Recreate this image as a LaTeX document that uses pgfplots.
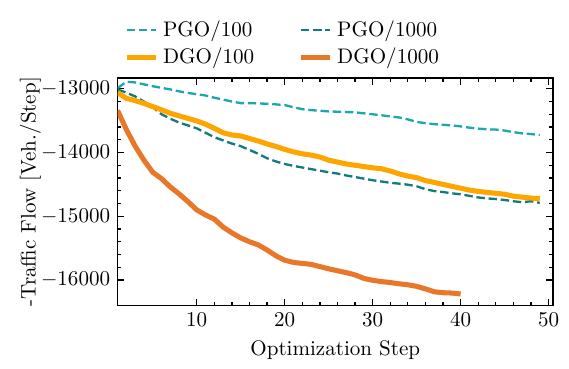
\documentclass[border=0pt]{standalone}
\usepackage{pgfplots}
\pgfplotsset{compat=1.18}
\definecolor{pgoa}{HTML}{1CA6AD}
\definecolor{pgob}{HTML}{117B80}
\definecolor{dgoa}{HTML}{FFA500}
\definecolor{dgob}{HTML}{E8772A}
\begin{document}
\begin{tikzpicture}
\begin{axis}[
  scale only axis,
  width=206.7pt, height=108pt,
  xmin=1, xmax=50.5,
  ymin=-16400, ymax=-12830,
  xtick={10,20,30,40,50},
  ytick={-16000,-15000,-14000,-13000},
  scaled y ticks=false,
  minor x tick num=4,
  minor y tick num=4,
  tick align=inside,
  xtick pos=both, ytick pos=both,
  major tick length=3.2pt,
  minor tick length=1.8pt,
  axis line style={line width=0.6pt},
  every tick/.style={line width=0.6pt, black},
  /pgf/number format/1000 sep={},
  xlabel={Optimization Step},
  ylabel={-Traffic Flow [Veh./Step]},
  ylabel style={at={(axis description cs:-0.200,0.5)}, anchor=center},
  legend columns=2,
  legend style={draw=none, fill=none, at={(0,1)}, anchor=south west, xshift=0pt, yshift=1pt,
    /tikz/every even column/.append style={column sep=19pt}, row sep=0pt},
  legend cell align=left,
  legend image code/.code={\draw[#1] (0pt,0pt) -- (14pt,0pt);},
]
\addplot[color=pgoa, line width=1.1pt, dash pattern=on 4pt off 1.8pt] coordinates {
(1,-12990)(2,-12890)(3,-12900)(4,-12930)(5,-12960)(6,-12985)(7,-13010)(8,-13040)(9,-13065)(10,-13085)
(11,-13105)(12,-13140)(13,-13170)(14,-13200)(15,-13225)(16,-13225)(17,-13230)(18,-13235)(19,-13245)(20,-13255)
(21,-13290)(22,-13320)(23,-13335)(24,-13345)(25,-13355)(26,-13360)(27,-13365)(28,-13370)(29,-13385)(30,-13400)
(31,-13415)(32,-13435)(33,-13450)(34,-13480)(35,-13520)(36,-13540)(37,-13555)(38,-13565)(39,-13575)(40,-13590)
(41,-13610)(42,-13625)(43,-13635)(44,-13640)(45,-13655)(46,-13680)(47,-13700)(48,-13710)(49,-13725)
};
\addlegendentry{PGO/100}
\addplot[color=pgob, line width=1.1pt, dash pattern=on 4pt off 1.8pt] coordinates {
(1,-13010)(2,-13060)(3,-13120)(4,-13200)(5,-13290)(6,-13400)(7,-13470)(8,-13530)(9,-13575)(10,-13620)
(11,-13690)(12,-13760)(13,-13810)(14,-13860)(15,-13900)(16,-13960)(17,-14020)(18,-14090)(19,-14140)(20,-14180)
(21,-14210)(22,-14235)(23,-14260)(24,-14285)(25,-14310)(26,-14330)(27,-14360)(28,-14385)(29,-14410)(30,-14435)
(31,-14455)(32,-14475)(33,-14488)(34,-14505)(35,-14530)(36,-14575)(37,-14605)(38,-14620)(39,-14640)(40,-14655)
(41,-14680)(42,-14705)(43,-14720)(44,-14730)(45,-14745)(46,-14765)(47,-14780)(48,-14765)(49,-14790)
};
\addlegendentry{PGO/1000}
\addplot[color=dgoa, line width=2.4pt] coordinates {
(1,-13060)(2,-13150)(3,-13185)(4,-13230)(5,-13280)(6,-13330)(7,-13385)(8,-13425)(9,-13465)(10,-13505)
(11,-13555)(12,-13620)(13,-13690)(14,-13725)(15,-13740)(16,-13780)(17,-13820)(18,-13865)(19,-13905)(20,-13950)
(21,-13990)(22,-14020)(23,-14040)(24,-14070)(25,-14120)(26,-14150)(27,-14180)(28,-14200)(29,-14220)(30,-14240)
(31,-14255)(32,-14290)(33,-14335)(34,-14370)(35,-14395)(36,-14440)(37,-14470)(38,-14500)(39,-14530)(40,-14560)
(41,-14590)(42,-14610)(43,-14625)(44,-14640)(45,-14655)(46,-14685)(47,-14700)(48,-14715)(49,-14725)
};
\addlegendentry{DGO/100}
\addplot[color=dgob, line width=2.4pt] coordinates {
(1,-13340)(2,-13640)(3,-13900)(4,-14120)(5,-14310)(6,-14410)(7,-14540)(8,-14650)(9,-14770)(10,-14900)
(11,-14980)(12,-15045)(13,-15170)(14,-15260)(15,-15340)(16,-15400)(17,-15450)(18,-15530)(19,-15620)(20,-15690)
(21,-15725)(22,-15740)(23,-15755)(24,-15790)(25,-15825)(26,-15855)(27,-15885)(28,-15920)(29,-15975)(30,-16005)
(31,-16025)(32,-16040)(33,-16060)(34,-16075)(35,-16100)(36,-16140)(37,-16185)(38,-16200)(39,-16205)(40,-16220)
};
\addlegendentry{DGO/1000}
\end{axis}
\pgfresetboundingbox
\path (current axis.south west) ++(-55.8pt,-30.1pt) rectangle ++(270.1pt,175.1pt);
\end{tikzpicture}
\end{document}
